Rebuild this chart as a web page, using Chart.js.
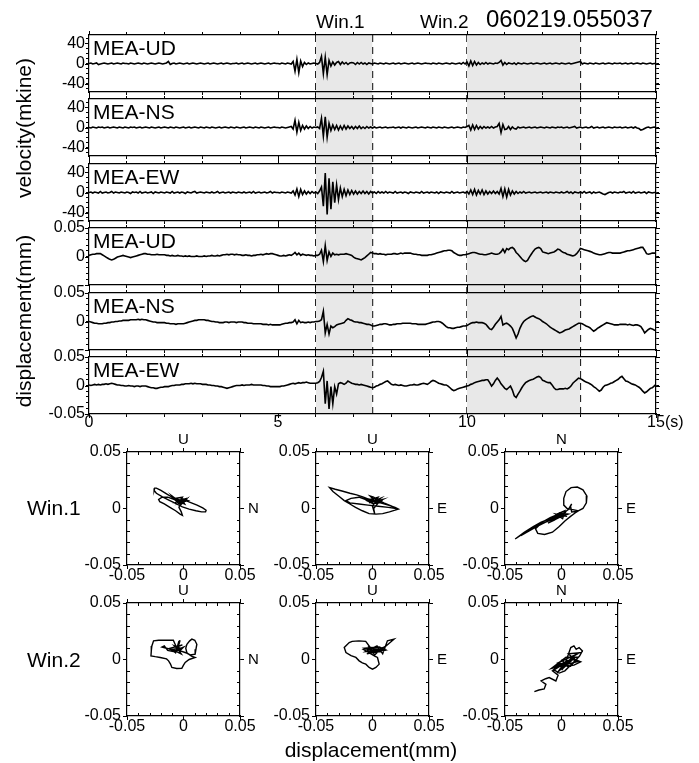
<!DOCTYPE html>
<html lang="en">
<head>
<meta charset="UTF-8">
<title>MEA 060219.055037</title>
<style>
  body { margin: 0; background: #fff; }
  #wrap { position: relative; width: 699px; height: 763px; overflow: hidden;
          font-family: "Liberation Sans", Arial, sans-serif; color: #000; }
  #wrap canvas { position: absolute; }
  .lbl { position: absolute; white-space: nowrap; line-height: 1; }
</style>
</head>
<body>
<div id="wrap"></div>

<script src="https://cdn.jsdelivr.net/npm/chart.js"></script>

<script>
// ---- data ----
const DT = 0.05;                 // sample step (s)
const T_MAX = 15;
const TIME_TICKS = [0, 5, 10, 15];
const VEL_TICKS = [40, 0, -40];
const DISP_TICKS = [0.05, 0, -0.05];
const HODO_TICKS = [-0.05, 0, 0.05];
const HODO_MINOR = [-0.04, -0.03, -0.02, -0.01, 0.01, 0.02, 0.03, 0.04];
const WINDOWS = [[6, 7.5], [10, 13]];
const WIN_NAMES = ['Win.1', 'Win.2'];
const EVENT_ID = '060219.055037';
const TRACE_NAMES = ['MEA-UD', 'MEA-NS', 'MEA-EW', 'MEA-UD', 'MEA-NS', 'MEA-EW'];

// velocity (mkine), one row = 1 s
const velUD = [
  0,1,-1,0,1,-2,-1,0,1,0,-1,0,1,-1,0,1,0,-1,1,0,
  0,-1,1,0,-1,0,1,0,-1,1,0,-1,0,1,0,-1,0,1,0,-1,
  0,1,4,-2,0,1,-1,0,1,0,-1,0,1,-1,0,1,0,-1,0,1,
  0,-1,0,1,-1,0,1,0,-1,0,1,-1,0,1,0,-1,0,0,1,-1,
  0,1,-1,0,1,0,-1,0,1,-1,0,1,0,-1,0,1,-1,0,1,0,
  0,-1,1,0,-1,1,0,-1,4,-15,8,-18,5,-6,2,-2,1,-1,0,1,
  0,-1,2,14,-20,12,-22,6,-5,3,-3,2,4,-2,3,-1,2,-2,1,2,
  1,-2,2,-1,2,-1,1,-2,1,0,-1,1,0,-1,1,0,-1,1,0,-1,
  0,1,-1,0,1,-1,0,1,0,-1,0,1,-1,0,1,0,-1,0,1,0,
  0,-1,1,0,-1,1,0,-1,0,1,0,-1,1,0,-1,0,1,-1,2,-1,
  3,-5,5,-4,4,-3,2,-2,1,-1,2,-1,1,0,-1,1,0,2,6,-3,
  2,-2,1,0,-1,1,-2,1,0,-1,1,0,-1,0,1,-1,0,1,0,-1,
  0,1,-1,0,1,-1,0,1,0,-1,1,0,-1,0,1,-1,0,1,2,3,
  4,-1,1,0,-1,1,0,-1,1,0,-1,0,1,-1,0,1,0,-1,1,0,
  0,1,-1,0,1,-1,0,1,-1,0,1,0,-1,1,0,-1,0,1,-1,0,
  0
];
const velNS = [
  0,-1,1,0,-1,1,0,1,-1,0,1,-1,0,1,0,-1,1,0,-1,1,
  0,-1,1,0,1,-1,0,1,-1,0,1,0,-1,1,0,-1,0,1,-1,0,
  1,0,-1,1,0,-1,1,0,-1,0,1,-1,0,1,-1,0,1,0,-1,1,
  0,-1,1,0,-1,1,0,-1,0,1,-1,0,1,0,-1,1,0,-1,1,0,
  -1,0,1,-1,0,1,0,-1,1,0,-1,1,0,-1,0,1,-1,0,1,0,
  0,-1,1,0,-1,0,1,2,-3,14,-9,10,-6,4,-3,3,-2,2,-1,1,
  0,1,-2,18,-17,21,-19,8,-6,5,-4,4,-5,3,-4,4,-3,3,-2,2,
  -3,2,-2,3,-2,1,-2,2,-1,1,-1,1,-1,0,1,-1,0,1,-1,0,
  0,1,-1,0,1,-1,1,0,-1,1,0,-1,0,1,-1,0,1,0,-1,1,
  0,-1,1,0,-1,1,0,-1,1,0,-1,0,1,-1,0,1,0,-1,1,0,
  2,4,-5,5,-4,4,-3,2,-2,2,-1,1,-1,2,-1,1,2,8,-10,6,
  -4,-3,2,-4,1,-2,-3,1,-1,0,1,-1,0,1,-1,0,1,-1,0,1,
  0,-1,1,0,-1,1,0,-1,1,0,1,-1,0,1,-1,0,1,2,-1,0,
  1,-1,0,1,-1,0,2,-1,0,1,-1,0,1,-1,0,1,0,-1,1,0,
  0,1,-1,0,1,-1,0,1,-1,1,-1,-2,-5,-4,-2,0,1,-1,0,1,
  0
];
const velEW = [
  0,1,-1,1,0,-1,2,-1,0,1,-1,0,2,-1,1,0,-1,1,0,-1,
  1,0,-2,1,0,1,-1,2,-1,0,1,-1,0,1,-2,1,0,-1,1,0,
  -1,1,0,-1,2,-1,0,1,-1,1,0,-2,1,0,-1,1,2,-1,0,1,
  0,-1,1,0,-1,1,-1,0,2,-1,0,1,-1,0,1,-1,1,0,-1,1,
  0,-1,1,-1,0,1,-1,2,-1,0,1,-1,0,1,-1,0,2,-1,1,0,
  0,-1,1,0,-1,1,0,-1,3,-5,7,-8,6,-4,3,-3,2,-2,2,-1,
  1,-2,3,11,-27,38,-43,28,-33,21,-20,15,-14,9,-8,6,-6,5,-4,4,
  -3,3,-3,2,-2,3,-2,2,-3,2,-1,1,-2,2,-1,1,-1,2,-1,1,
  0,-1,2,-1,0,1,-1,1,0,-2,1,0,-1,1,0,-1,2,-1,0,1,
  -1,1,0,-1,1,-2,1,0,-1,1,0,-1,2,-1,0,1,-1,0,1,-1,
  2,-3,5,-4,6,-5,4,-3,5,-4,3,-3,2,-2,3,-2,2,-3,8,-8,
  7,-9,6,-5,3,-3,2,-2,1,-1,2,-1,0,1,-1,0,1,-1,0,1,
  -1,0,1,-1,1,0,-1,1,0,-1,1,-1,0,2,-1,1,-2,1,0,-1,
  1,-1,2,-1,0,1,-2,1,-1,0,1,-1,-3,-4,-2,0,1,-1,1,0,
  -1,1,0,2,-1,0,1,-1,2,-1,0,1,-1,0,1,-2,1,0,-1,0,
  0
];

// displacement (micrometre = 0.001 mm), one row = 1 s
const dispUD = [
  2,3,4,4,5,5,5,3,1,-1,-3,-5,-6,-5,-3,-1,0,1,2,1,
  0,-1,-2,-1,0,1,2,3,4,5,5,4,4,3,3,3,4,3,3,3,
  3,2,2,1,2,1,1,2,1,1,0,1,0,1,0,0,0,1,0,0,
  0,1,0,1,1,2,1,1,2,1,2,3,3,4,3,4,4,3,4,3,
  3,2,2,3,2,2,1,2,2,3,3,4,3,4,5,4,5,5,4,3,
  2,1,1,2,1,2,3,2,4,7,3,6,2,4,3,2,3,2,2,1,
  2,2,4,11,-9,19,-7,8,0,6,3,4,3,4,4,4,5,4,3,2,
  -1,-3,-4,-5,-6,-4,-2,1,4,7,6,5,5,4,5,4,4,3,4,4,
  4,5,5,4,5,6,5,6,6,6,6,5,4,4,3,3,2,2,2,2,
  3,3,4,5,6,7,8,9,10,10,11,11,10,7,5,3,2,2,3,3,
  4,5,6,7,7,6,5,4,4,3,3,4,5,6,5,4,4,5,8,13,
  7,14,12,15,16,13,7,4,0,-4,-7,-9,-7,-1,4,9,13,15,16,14,
  8,7,6,5,6,7,8,10,13,12,9,7,6,4,3,2,1,2,5,9,
  14,13,12,11,10,9,8,6,5,4,3,3,4,5,6,7,7,6,6,6,
  6,6,7,8,9,10,10,11,12,13,14,15,16,16,11,5,4,5,6,6,
  6
];
const dispNS = [
  0,-1,-2,-3,-3,-4,-4,-4,-3,-3,-2,-2,-1,-1,0,0,1,1,2,2,
  2,2,3,3,3,3,4,3,4,3,3,2,1,0,-1,-1,-2,-2,-2,-2,
  -2,-3,-3,-4,-4,-4,-5,-4,-4,-4,-4,-3,-2,-1,0,1,2,2,3,3,
  3,3,2,2,1,0,0,-1,-1,-2,-2,-2,-1,-1,-2,-1,-1,-1,-2,-1,
  -1,-1,-2,-2,-3,-3,-3,-4,-4,-4,-4,-4,-5,-5,-5,-6,-5,-6,-6,-6,
  -6,-6,-5,-4,-3,-3,-2,-2,-1,3,-4,2,-2,-1,-2,-2,-1,-2,-1,-1,
  0,0,1,3,18,-20,-5,-22,-8,-11,-9,-6,-5,-4,-3,-2,2,5,3,2,
  0,-1,-1,-2,-2,-3,-4,-5,-5,-6,-8,-8,-7,-6,-5,-5,-4,-4,-5,-6,
  -6,-5,-5,-4,-4,-4,-3,-3,-3,-3,-3,-4,-4,-4,-5,-5,-5,-5,-5,-4,
  -3,-2,-1,-1,0,0,-1,-3,-6,-9,-11,-11,-12,-12,-11,-10,-10,-9,-8,-8,
  -7,-5,-3,-2,-2,-1,-2,-2,-2,-3,-5,-9,-13,-14,-10,-5,-1,3,9,-6,
  -4,-3,-5,-8,-12,-20,-29,-22,-12,-5,0,3,5,7,9,10,8,6,5,3,
  0,-2,-4,-7,-10,-12,-14,-16,-18,-20,-19,-17,-15,-14,-13,-11,-9,-7,-5,-3,
  -3,-4,-6,-8,-9,-11,-14,-17,-15,-12,-10,-8,-6,-4,-2,-3,-4,-5,-6,-6,
  -6,-5,-5,-5,-5,-6,-5,-6,-7,-6,-6,-7,-9,-14,-20,-17,-14,-12,-13,-15,
  -16
];
const dispEW = [
  1,0,1,2,1,2,1,2,2,3,2,3,4,3,2,1,1,0,0,-1,
  -1,0,-1,-1,-2,-1,-1,-2,-1,-1,-1,-2,-3,-4,-4,-5,-5,-4,-3,-3,
  -2,-2,-2,-1,0,0,1,1,1,2,2,3,3,3,4,3,4,3,3,3,
  2,2,2,1,1,0,0,-1,-1,-2,-2,-3,-4,-5,-4,-3,-2,-1,0,0,
  0,1,0,1,1,1,2,1,1,1,1,1,0,0,-1,-1,-2,-2,-2,-2,
  -2,-2,-1,-1,0,1,2,3,4,3,4,5,4,5,5,6,5,4,4,4,
  4,5,7,14,25,-32,8,-41,-2,-32,-2,-15,3,5,4,2,4,8,6,4,
  3,2,2,1,2,1,0,-1,-2,-3,-4,-3,-1,0,2,3,5,7,8,5,
  2,1,2,1,0,1,0,-1,-1,0,1,1,2,1,1,2,3,4,3,2,
  4,7,9,8,6,4,3,2,1,1,-1,-4,-7,-9,-8,-6,-5,-4,-3,-2,
  -1,0,2,3,5,6,7,8,9,9,10,10,5,-1,3,9,13,9,3,-1,
  -5,-7,-4,-1,-8,-18,-21,-15,-10,-4,1,5,7,9,10,11,13,15,16,14,
  9,8,6,5,5,1,-4,-7,-7,-6,-6,-6,-5,-6,-4,-1,4,7,10,13,
  12,10,8,6,5,3,1,-2,-4,-7,-10,-8,-3,0,1,2,4,5,7,9,
  11,14,16,12,8,7,5,3,2,1,-1,-3,-6,-10,-13,-11,-8,-5,-4,-1,
  2
];

// particle motion in the windows, [horizontal, vertical] in micrometre
const w1NU = [[-4,6],[-2,4],[-6,8],[-10,11],[-5,5],[-10,10],[-15,13],[-20,16],[-24,18],[-25.5,18],[-26,16],[-24,13.5],[-19,10.5],[-13,7.5],[-7,4.5],[-1,1.5],[5,-0.5],[11,-2],[16,-3],[19.5,-3],[20,-1.5],[17,0.5],[12,3],[7,5],[2,7],[-1,8],[-3,7],[-8,8],[-14,10],[-19,10],[-22,8],[-21,6],[-17,4],[-12,1],[-7,-2],[-3,-5],[-1,-6],[-2,-3],[-4,1],[-3,4],[0,8],[-5,6],[2,7],[-3,3],[3,9],[-6,7],[1,4],[-2,9],[4,7],[-4,5],[-1,10],[-7,9],[0,6],[-3,5],[2,8],[-1,5]];
const w1EU = [[0,6],[-3,8],[-8,10],[-14,12],[-20,13.5],[-27,15.5],[-33,17],[-38,18.5],[-35,15],[-30,11],[-25,7],[-20,4],[-15,1],[-9,-2],[-3,-4.5],[3,-5],[9,-4.5],[15,-3],[20,-1.5],[23,-0.5],[20,1],[14,3],[7,5],[1,6],[-6,8],[-12,10],[-19,9],[-23.5,7],[-20,5],[-12,4],[-4,3],[5,2],[14,1],[21,0],[22,-0.5],[17,2],[10,5],[4,8],[1,10],[-2,11],[3,6],[7,9],[-3,5],[9,8],[1,4],[-5,7],[5,10],[0,2],[2,-5],[1,0],[6,6],[-2,8],[4,4],[8,7],[2,8]];
const w1EN = [[0,-5],[-5,-8],[-12,-11],[-20,-15],[-28,-19],[-35,-23],[-41,-27],[-33,-21],[-25,-16],[-18,-12],[-10,-9],[-4,-7],[2,-5],[-6,-9],[-14,-12],[-20,-15],[-23,-18],[-21,-22],[-15,-23],[-8,-21],[-2,-16],[3,-11],[8,-7],[12,-4],[15,-2],[10,-1],[5,0],[2,3],[2,9],[4,15],[8.5,18.5],[14,19],[19,16.5],[22.5,11],[22,5],[19,0],[14,-2.5],[9,-3],[8,2],[9,4],[6,-1],[2,-4],[-3,-8],[4,-3],[-1,-6],[5,-7],[-5,-5],[1,-9],[3,-2],[-2,-4],[6,-5],[0,-7],[-8,-11],[-12,-13],[-6,-10],[-1,-5],[2,-6],[-10,-10],[-22,-16],[-36,-24],[-22,-15],[-10,-8],[0,-4]];
const w2NU = [[-5,8],[-9,17],[-15,17],[-22,17],[-26.5,16.5],[-28,12],[-28.5,7.5],[-28.8,3.2],[-25,2.5],[-20.6,1.8],[-15,0.5],[-13.2,-1.2],[-11.5,-4],[-10.3,-7],[-6,-8],[-1.5,-7.9],[0,-5],[1.5,-2.6],[5,0],[10.3,1.8],[7,3],[3,6],[2,10],[3,13.5],[5.5,16.5],[7.4,18],[10,17],[11.8,13.5],[11,9],[10.3,4.7],[6,4],[2,6],[-4,8],[-8,12],[-3,10],[-10,9],[-2,5],[-6,11],[-1,13],[-12,10],[-7,6],[-4,16.5],[-5,12],[-3,17],[-6,7],[-15,10],[-19,11],[-17,12],[-14,8],[-9,7],[-2,9],[0,11],[-5,9]];
const w2EU = [[0,8],[-6,16],[-12,16.5],[-18,16],[-20.6,15],[-25,10.6],[-23.5,6.2],[-19,3.5],[-14.7,1.8],[-11.8,-1.2],[-9,-3],[-5.9,-4.1],[-3,-7],[0,-8.5],[3,-7],[5.9,-4.1],[4.4,1.8],[2,3],[-8,9],[0,10],[5,7],[-5,5],[8,10],[2,4],[-3,11],[10,8],[-6,7],[4,12],[9,5],[13.2,16.5],[19,18],[12,12],[7,9],[-2,8],[3,6],[-7,10],[6,11],[11,9],[1,7],[-4,6],[8,7]];
const w2EN = [[-24,-28.5],[-20,-27],[-15.3,-26],[-13.8,-22],[-18,-19],[-14,-17],[-10.9,-16],[-5,-19],[-3,-14],[-8,-10],[2,-4],[-4,-12],[6,-2],[-6,-6],[10,0],[0,-9],[12,4],[-3,-3],[8,-6],[15,2],[4,2],[-9,-8],[14,-2],[6,5],[16,6],[9,2],[2,-7],[8.2,10.6],[11,12],[13,9],[15.6,10.6],[18.5,7.6],[16,3],[10,-3],[3,-10],[-2,-12],[-7,-9],[-1,-5],[5,-1],[12,0],[17,-2],[11,-5],[5,-6],[0,0]];

// ---- layout ----
const W = 699;
const PLOT_L = 89, PLOT_R = 656;
const PANEL_TOP = [35, 99, 164, 228, 293, 357];
const PANEL_H = 57;
const HODO_COL_L = [127, 316, 505];
const HODO_ROW_T = [452, 603];
const HODO_SIZE = 113;
const FONT = '"Liberation Sans", Arial, sans-serif';

Chart.defaults.font.family = FONT;
Chart.defaults.color = '#000';

const wrap = document.getElementById('wrap');

function addCanvas(left, top, w, h) {
  const c = document.createElement('canvas');
  c.width = w;
  c.height = h;
  c.style.left = left + 'px';
  c.style.top = top + 'px';
  wrap.appendChild(c);
  return c.getContext('2d');
}

// left/baseline placement, line-height 1
function addText(text, left, baseline, size, center) {
  const d = document.createElement('div');
  d.className = 'lbl';
  d.textContent = text;
  d.style.fontSize = size + 'px';
  d.style.left = left + 'px';
  d.style.top = (baseline - 0.8465 * size) + 'px';
  if (center) d.style.transform = 'translateX(-50%)';
  wrap.appendChild(d);
}

function addVText(text, cx, cy, size) {
  const d = document.createElement('div');
  d.className = 'lbl';
  d.textContent = text;
  d.style.fontSize = size + 'px';
  d.style.left = cx + 'px';
  d.style.top = cy + 'px';
  d.style.transform = 'translate(-50%,-50%) rotate(-90deg)';
  wrap.appendChild(d);
}

// longer outward ticks at the labelled values
const majorTicks = {
  id: 'majorTicks',
  afterDraw(chart, args, o) {
    const { ctx, chartArea: a, scales: { x, y } } = chart;
    ctx.save();
    ctx.strokeStyle = '#000';
    ctx.lineWidth = 1;
    ctx.beginPath();
    o.x.forEach(v => {
      const p = Math.round(x.getPixelForValue(v)) + 0.5;
      ctx.moveTo(p, a.top - o.len); ctx.lineTo(p, a.top);
      ctx.moveTo(p, a.bottom); ctx.lineTo(p, a.bottom + o.len);
    });
    o.y.forEach(v => {
      const p = Math.round(y.getPixelForValue(v)) + 0.5;
      ctx.moveTo(a.left - o.len, p); ctx.lineTo(a.left, p);
      ctx.moveTo(a.right, p); ctx.lineTo(a.right + o.len, p);
    });
    ctx.stroke();
    ctx.restore();
  }
};

// small inward ticks + axis letters for the particle-motion boxes
const hodoDecor = {
  id: 'hodoDecor',
  afterDraw(chart, args, o) {
    const { ctx, chartArea: a, scales: { x, y } } = chart;
    ctx.save();
    ctx.strokeStyle = '#000';
    ctx.lineWidth = 1;
    ctx.beginPath();
    HODO_MINOR.forEach(v => {
      const px = Math.round(x.getPixelForValue(v)) + 0.5;
      const py = Math.round(y.getPixelForValue(v)) + 0.5;
      ctx.moveTo(px, a.top); ctx.lineTo(px, a.top + o.len);
      ctx.moveTo(px, a.bottom); ctx.lineTo(px, a.bottom - o.len);
      ctx.moveTo(a.left, py); ctx.lineTo(a.left + o.len, py);
      ctx.moveTo(a.right, py); ctx.lineTo(a.right - o.len, py);
    });
    ctx.stroke();
    ctx.fillStyle = '#000';
    ctx.font = '15px ' + FONT;
    ctx.textBaseline = 'middle';
    ctx.textAlign = 'center';
    ctx.fillText(o.top, x.getPixelForValue(0), a.top - 12);
    ctx.textAlign = 'left';
    ctx.fillText(o.right, a.right + 8, y.getPixelForValue(0));
    ctx.restore();
  }
};

function tickLabel(list) {
  return v => {
    const hit = list.find(t => Math.abs(t - v) < 1e-9);
    return hit === undefined ? '' : String(hit);
  };
}

function frameAxis(extra) {
  return Object.assign({
    type: 'linear',
    grid: { drawOnChartArea: false, tickLength: 3, tickColor: '#000', color: '#000' },
    border: { display: true, color: '#000', width: 1.2 }
  }, extra);
}

// ---- window shading + dashed markers behind the traces ----
const bgTop = PANEL_TOP[0];
const bgH = PANEL_TOP[5] + PANEL_H - bgTop;
const bgSets = [];
WINDOWS.forEach(([a, b]) => {
  bgSets.push({ data: [{ x: a, y: 1 }, { x: b, y: 1 }], fill: 'origin',
                backgroundColor: '#e8e8e8', borderWidth: 0, pointRadius: 0 });
});
WINDOWS.flat().forEach(t => {
  bgSets.push({ data: [{ x: t, y: 0 }, { x: t, y: 1 }], fill: false, borderColor: '#000',
                borderWidth: 1.4, borderDash: [7, 5], pointRadius: 0 });
});
new Chart(addCanvas(0, bgTop, W, bgH), {
  type: 'line',
  data: { datasets: bgSets },
  options: {
    responsive: false, animation: false, events: [],
    layout: { padding: { left: PLOT_L, right: W - PLOT_R, top: 0, bottom: 0 } },
    plugins: { legend: { display: false }, tooltip: { enabled: false } },
    scales: {
      x: { type: 'linear', min: 0, max: T_MAX, display: false },
      y: { type: 'linear', min: 0, max: 1, display: false }
    }
  }
});

// ---- six traces ----
const traces = [
  { v: velUD, k: 1, lim: 56, step: 10, labels: VEL_TICKS, major: VEL_TICKS },
  { v: velNS, k: 1, lim: 56, step: 10, labels: VEL_TICKS, major: VEL_TICKS },
  { v: velEW, k: 1, lim: 56, step: 10, labels: VEL_TICKS, major: VEL_TICKS },
  { v: dispUD, k: 0.001, lim: 0.05, step: 0.01, labels: [0.05, 0], major: DISP_TICKS },
  { v: dispNS, k: 0.001, lim: 0.05, step: 0.01, labels: [0.05, 0], major: DISP_TICKS },
  { v: dispEW, k: 0.001, lim: 0.05, step: 0.01, labels: DISP_TICKS, major: DISP_TICKS }
];

traces.forEach((tr, i) => {
  const last = i === traces.length - 1;
  const padT = 14, padB = last ? 34 : 14;
  const ctx = addCanvas(0, PANEL_TOP[i] - padT, W, PANEL_H + padT + padB);
  new Chart(ctx, {
    type: 'line',
    data: {
      datasets: [{
        data: tr.v.map((val, n) => ({ x: n * DT, y: val * tr.k })),
        borderColor: '#000', borderWidth: 1.6, pointRadius: 0, tension: 0
      }]
    },
    options: {
      responsive: false, animation: false, events: [],
      layout: { padding: 0 },
      plugins: {
        legend: { display: false }, tooltip: { enabled: false },
        majorTicks: { x: TIME_TICKS, y: tr.major, len: 4 }
      },
      scales: {
        x: frameAxis({
          position: 'bottom', min: 0, max: T_MAX,
          afterFit: s => { s.height = padB; },
          ticks: { stepSize: 1, autoSkip: false, maxRotation: 0, padding: -4, font: { size: 16 },
                   callback: v => (last && TIME_TICKS.includes(v)) ? String(v) : '' }
        }),
        xTop: frameAxis({
          axis: 'x', position: 'top', min: 0, max: T_MAX,
          afterFit: s => { s.height = padT; },
          ticks: { stepSize: 1, autoSkip: false, maxRotation: 0, callback: () => '' }
        }),
        y: frameAxis({
          position: 'left', min: -tr.lim, max: tr.lim,
          afterFit: s => { s.width = PLOT_L; },
          ticks: { stepSize: tr.step, includeBounds: false, autoSkip: false, padding: 1,
                   font: { size: 16 }, callback: tickLabel(tr.labels) }
        }),
        yRight: frameAxis({
          axis: 'y', position: 'right', min: -tr.lim, max: tr.lim,
          afterFit: s => { s.width = W - PLOT_R; },
          ticks: { stepSize: tr.step, includeBounds: false, autoSkip: false, callback: () => '' }
        })
      }
    },
    plugins: [majorTicks]
  });
  addText(TRACE_NAMES[i], 93, PANEL_TOP[i] + 20, 21);
});

// ---- particle-motion boxes ----
const hodos = [
  { d: w1NU, col: 0, row: 0, top: 'U', right: 'N' },
  { d: w1EU, col: 1, row: 0, top: 'U', right: 'E' },
  { d: w1EN, col: 2, row: 0, top: 'N', right: 'E' },
  { d: w2NU, col: 0, row: 1, top: 'U', right: 'N' },
  { d: w2EU, col: 1, row: 1, top: 'U', right: 'E' },
  { d: w2EN, col: 2, row: 1, top: 'N', right: 'E' }
];

hodos.forEach(h => {
  const L = HODO_COL_L[h.col], T = HODO_ROW_T[h.row];
  const padL = 52, padT = 28, padR = 34, padB = 26;
  const ctx = addCanvas(L - padL, T - padT, padL + HODO_SIZE + padR, padT + HODO_SIZE + padB);
  const hAxis = extra => frameAxis(Object.assign({ min: -0.05, max: 0.05 }, extra));
  new Chart(ctx, {
    type: 'scatter',
    data: {
      datasets: [{
        data: h.d.map(p => ({ x: p[0] * 0.001, y: p[1] * 0.001 })),
        showLine: true, borderColor: '#000', borderWidth: 1.4, pointRadius: 0, tension: 0
      }]
    },
    options: {
      responsive: false, animation: false, events: [],
      layout: { padding: 0 },
      plugins: {
        legend: { display: false }, tooltip: { enabled: false },
        hodoDecor: { len: 3, top: h.top, right: h.right }
      },
      scales: {
        x: hAxis({
          position: 'bottom', afterFit: s => { s.height = padB; },
          grid: { drawOnChartArea: false, tickLength: 4, tickColor: '#000' },
          ticks: { stepSize: 0.05, autoSkip: false, maxRotation: 0, padding: -3, font: { size: 16 },
                   callback: tickLabel(HODO_TICKS) }
        }),
        xTop: hAxis({
          axis: 'x', position: 'top', afterFit: s => { s.height = padT; },
          grid: { drawOnChartArea: false, tickLength: 4, tickColor: '#000' },
          ticks: { stepSize: 0.05, autoSkip: false, callback: () => '' }
        }),
        y: hAxis({
          position: 'left', afterFit: s => { s.width = padL; },
          grid: { drawOnChartArea: false, tickLength: 4, tickColor: '#000' },
          ticks: { stepSize: 0.05, autoSkip: false, padding: 2, font: { size: 16 },
                   callback: tickLabel(HODO_TICKS) }
        }),
        yRight: hAxis({
          axis: 'y', position: 'right', afterFit: s => { s.width = padR; },
          grid: { drawOnChartArea: false, tickLength: 4, tickColor: '#000' },
          ticks: { stepSize: 0.05, autoSkip: false, callback: () => '' }
        })
      }
    },
    plugins: [hodoDecor]
  });
});

// ---- free text ----
addText(WIN_NAMES[0], 316, 28.5, 19);
addText(WIN_NAMES[1], 420, 28.5, 19);
addText(EVENT_ID, 486, 27, 24);
addVText('velocity(mkine)', 23, (PANEL_TOP[0] + PANEL_TOP[2] + PANEL_H) / 2, 21);
addVText('displacement(mm)', 23, (PANEL_TOP[3] + PANEL_TOP[5] + PANEL_H) / 2, 21);
addText('(s)', 665, 428, 16);
addText(WIN_NAMES[0], 27, 515, 21);
addText(WIN_NAMES[1], 27, 667, 21);
addText('displacement(mm)', 371, 757, 21, true);
</script>
</body>
</html>
